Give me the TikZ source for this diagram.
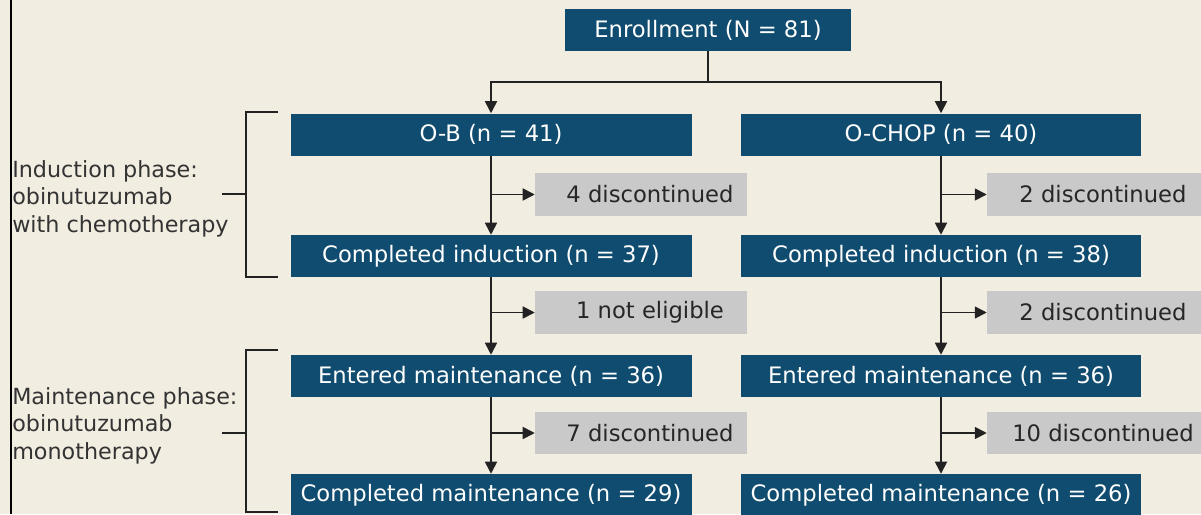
\documentclass[tikz,border=0pt]{standalone}
\usepackage{fontspec}
\setmainfont{DejaVu Sans}
\usetikzlibrary{arrows.meta}
\definecolor{bgc}{HTML}{F1EDE1}
\definecolor{bluebox}{HTML}{0F4C6F}
\definecolor{greybox}{HTML}{C9C9C9}
\definecolor{linec}{HTML}{222222}
\tikzset{
  bluestep/.style={fill=bluebox, text=white, minimum height=31.5pt, inner sep=0pt, font=\fontsize{17pt}{20pt}\selectfont},
  greystep/.style={fill=greybox, text=black!85, minimum height=32pt, inner sep=0pt, font=\fontsize{17pt}{20pt}\selectfont},
  conn/.style={draw=linec, line width=1.3pt},
  arr/.style={conn, -{Triangle[length=9pt,width=9pt]}},
  phase/.style={text=black!80, align=left, anchor=base west, inner sep=0pt, font=\fontsize{16.7pt}{20.6pt}\selectfont},
}
\begin{document}
\begin{tikzpicture}[x=0.75pt,y=-0.75pt]
\useasboundingbox (0,0) rectangle (1201,514);
\fill[bgc] (0,0) rectangle (1201,514);
\draw[black, line width=1.6pt] (11,0) -- (11,514);

% nodes
\node[bluestep, minimum width=214.5pt] (enr) at (708,30) {Enrollment (N = 81)};
\node[bluestep, minimum width=300.75pt] (ob) at (491,134.5) {O-B (n = 41)};
\node[bluestep, minimum width=300pt] (oc) at (941,134.5) {O-CHOP (n = 40)};
\node[greystep, minimum width=159pt] (g1) at (641,194.5) {\hspace*{13.5pt}4 discontinued};
\node[greystep, minimum width=174pt] (g2) at (1103,194.5) {2 discontinued};
\node[bluestep, minimum width=300.75pt] (cil) at (491,256) {Completed induction (n = 37)};
\node[bluestep, minimum width=300pt] (cir) at (941,256) {Completed induction (n = 38)};
\node[greystep, minimum width=159pt] (g3) at (641,312.5) {\hspace*{13.5pt}1 not eligible};
\node[greystep, minimum width=174pt] (g4) at (1103,312.5) {2 discontinued};
\node[bluestep, minimum width=300.75pt] (eml) at (491,376) {Entered maintenance (n = 36)};
\node[bluestep, minimum width=300pt] (emr) at (941,376) {Entered maintenance (n = 36)};
\node[greystep, minimum width=159pt] (g5) at (641,433) {\hspace*{13.5pt}7 discontinued};
\node[greystep, minimum width=174pt] (g6) at (1103,433) {10 discontinued};
\node[bluestep, minimum width=300.75pt] (cml) at (491,495) {Completed maintenance (n = 29)};
\node[bluestep, minimum width=300pt] (cmr) at (941,495) {Completed maintenance (n = 26)};

% enrollment split
\coordinate (split) at (708,82);
\draw[conn] (enr.south) -- (split);
\draw[arr] (split) -| (ob.north);
\draw[arr] (split) -| (oc.north);

% vertical flows
\draw[arr] (ob.south) -- (cil.north);
\draw[arr] (oc.south) -- (cir.north);
\draw[arr] (cil.south) -- (eml.north);
\draw[arr] (cir.south) -- (emr.north);
\draw[arr] (eml.south) -- (cml.north);
\draw[arr] (emr.south) -- (cmr.north);

% side branches
\draw[arr] (ob.south |- g1.west) -- (g1.west);
\draw[arr] (oc.south |- g2.west) -- (g2.west);
\draw[arr] (cil.south |- g3.west) -- (g3.west);
\draw[arr] (cir.south |- g4.west) -- (g4.west);
\draw[arr] (eml.south |- g5.west) -- (g5.west);
\draw[arr] (emr.south |- g6.west) -- (g6.west);

% brackets
\draw[conn, line width=1.1pt] (278,112) -- (246,112) -- (246,277) -- (278,277);
\draw[conn, line width=1.1pt] (222,194) -- (246,194);
\draw[conn, line width=1.1pt] (278,350) -- (246,350) -- (246,512) -- (278,512);
\draw[conn, line width=1.1pt] (222,433) -- (246,433);

% phase labels
\node[phase] (ind) at (12,232) {Induction phase:\\obinutuzumab\\with chemotherapy};
\node[phase] (mai) at (12,459) {Maintenance phase:\\obinutuzumab\\monotherapy};
\end{tikzpicture}
\end{document}
